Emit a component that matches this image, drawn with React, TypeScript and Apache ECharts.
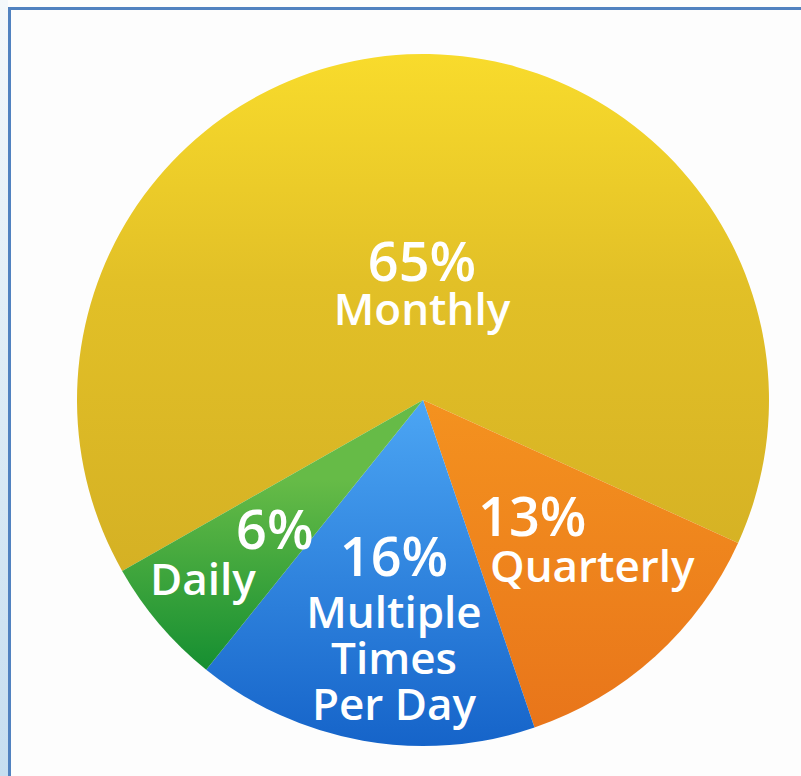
import React, { useEffect, useRef } from "react";
import * as echarts from "echarts";

const categories = ["Monthly", "Quarterly", "Multiple Times Per Day", "Daily"];
const values = [65, 13, 16, 6];
const labelLines = [["Monthly"], ["Quarterly"], ["Multiple", "Times", "Per Day"], ["Daily"]];

// label layout (anchor of each label block)
const labelX = [422, 478, 394, 150];
const labelY = [234, 489, 522, 502];
const labelAlign = ["center", "left", "center", "left"];

const FONT = "Open Sans";

export default function App() {
  const ref = useRef<HTMLDivElement>(null);
  useEffect(() => {
    if (!ref.current) return;
    const chart = echarts.init(ref.current, null, { renderer: "svg" });
    const G = echarts.graphic.LinearGradient;
    const fills = [
      new G(0, 47, 0, 570, [
        { offset: 0, color: "#f9dc2c" },
        { offset: 0.45, color: "#e2c027" },
        { offset: 1, color: "#d5b124" },
      ], true),
      new G(0, 400, 0, 740, [
        { offset: 0, color: "#f4921f" },
        { offset: 1, color: "#e8741a" },
      ], true),
      new G(0, 400, 0, 755, [
        { offset: 0, color: "#4ca6f4" },
        { offset: 1, color: "#1462c8" },
      ], true),
      new G(0, 480, 0, 690, [
        { offset: 0, color: "#66bb47" },
        { offset: 1, color: "#0d8a2f" },
      ], true),
    ];
    const richKey = (i: number) => ["m", "q", "x", "d"][i];
    const formatter = (p: any) => {
      const k = richKey(p.dataIndex);
      const lines = labelLines[p.dataIndex].map((l) => `{n${k}|${l}}`).join("\n");
      return `{p${k}|${values[p.dataIndex]}%}\n${lines}`;
    };
    const base = { color: "#ffffff", fontFamily: FONT, fontWeight: 600 as any };
    const pStyle = { ...base, fontSize: 54, lineHeight: 52 };
    const nStyle = { ...base, fontSize: 44, lineHeight: 48 };
    chart.setOption({
      animation: false,
      backgroundColor: "#fdfdfd",
      graphic: [
        {
          type: "rect",
          z: -10,
          shape: { x: 0, y: 0, width: 8, height: 776 },
          style: {
            fill: new G(0, 0, 0, 1, [
              { offset: 0, color: "#f4f8fb" },
              { offset: 1, color: "#c6def0" },
            ]),
          },
        },
        { type: "rect", z: 10, shape: { x: 8, y: 7, width: 793, height: 3 }, style: { fill: "#5182c0" } },
        { type: "rect", z: 10, shape: { x: 8, y: 7, width: 3, height: 769 }, style: { fill: "#5182c0" } },
      ],
      series: [
        {
          type: "pie",
          center: [423, 400],
          radius: [0, 346],
          startAngle: 209.6,
          clockwise: true,
          avoidLabelOverlap: false,
          silent: true,
          data: categories.map((c, i) => ({ name: c, value: values[i], itemStyle: { color: fills[i] } })),
          itemStyle: { borderWidth: 0 },
          labelLine: { show: false },
          label: {
            show: true,
            position: "inside",
            formatter,
            ...base,
            rich: {
              pm: pStyle,
              nm: { ...nStyle, lineHeight: 44 },
              pq: pStyle,
              nq: { ...nStyle, padding: [0, 0, 0, 12] },
              px: { ...pStyle, lineHeight: 66 },
              nx: { ...nStyle, lineHeight: 46 },
              pd: { ...pStyle, padding: [0, 0, 0, 86] },
              nd: nStyle,
            },
          },
          labelLayout: (params: any) => ({
            x: labelX[params.dataIndex],
            y: labelY[params.dataIndex],
            align: labelAlign[params.dataIndex],
            verticalAlign: "top",
          }),
        },
      ],
    });
    return () => chart.dispose();
  }, []);
  return (
    <div
      ref={ref}
      style={{ position: "absolute", left: 0, top: 0, width: 801, height: 776 }}
    />
  );
}
